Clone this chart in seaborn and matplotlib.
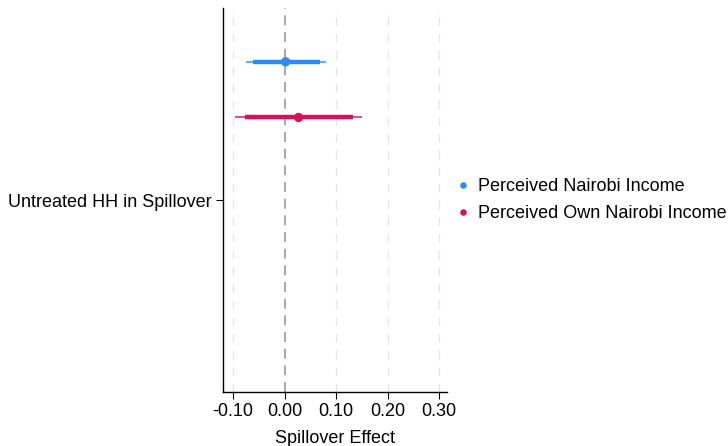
import matplotlib
matplotlib.use("Agg")
import matplotlib.pyplot as plt
import seaborn as sns
import pandas as pd

series = ["Perceived Nairobi Income", "Perceived Own Nairobi Income"]
estimates = [0.002, 0.027]
ci90_low = [-0.062, -0.076]
ci90_high = [0.068, 0.132]
ci95_low = [-0.074, -0.097]
ci95_high = [0.080, 0.151]
colors = ["#2a8cf0", "#d4145a"]
category = "Untreated HH in Spillover"
xticks = [-0.10, 0.00, 0.10, 0.20, 0.30]
ypos = [0.72, 0.43]

sns.set_theme(style="white")
plt.rcParams['font.family'] = ['Liberation Sans', 'DejaVu Sans']
plt.rcParams['text.color'] = 'black'
plt.rcParams['axes.labelcolor'] = 'black'
plt.rcParams['xtick.color'] = 'black'
plt.rcParams['ytick.color'] = 'black'

df = pd.DataFrame({"series": series, "est": estimates, "y": ypos,
                   "lo90": ci90_low, "hi90": ci90_high,
                   "lo95": ci95_low, "hi95": ci95_high})

fig = plt.figure(figsize=(7.28, 4.46), dpi=100)
ax = fig.add_axes([0.306, 0.121, 0.308, 0.861])

for xt in xticks:
    if xt == 0:
        continue
    ax.axvline(xt, color="#e6e6e6", lw=1.0, ls=(0, (6, 6)), zorder=0)
ax.axvline(0, color="#999999", lw=1.2, ls=(0, (6, 4)), zorder=1)

for i, r in df.iterrows():
    ax.hlines(r["y"], r["lo95"], r["hi95"], color=colors[i], lw=1.3, alpha=0.8, zorder=2)
    ax.hlines(r["y"], r["lo90"], r["hi90"], color=colors[i], lw=3.2, zorder=3)

sns.scatterplot(data=df, x="est", y="y", hue="series", palette=colors,
                s=45, edgecolor="none", ax=ax, zorder=4)

ax.set_xlim(-0.12, 0.315)
ax.set_ylim(-1, 1)
ax.set_xticks(xticks)
ax.set_xticklabels([f"{v:.2f}" for v in xticks], fontsize=13)
ax.set_yticks([0])
ax.set_yticklabels([category], fontsize=13)
ax.set_xlabel("Spillover Effect", fontsize=13, labelpad=7)
ax.set_ylabel("")
ax.tick_params(axis="both", which="both", direction="out", length=5, width=0.8,
               color="black", bottom=True, left=True, pad=3)
for side in ["top", "right"]:
    ax.spines[side].set_visible(False)
for side in ["left", "bottom"]:
    ax.spines[side].set_color("black")
    ax.spines[side].set_linewidth(1.0)

handles, labels = ax.get_legend_handles_labels()
ax.legend(handles, labels, loc="center left", bbox_to_anchor=(1.0, 0.5),
          frameon=False, fontsize=13, handlelength=1.0, handletextpad=0.3,
          labelspacing=0.55, markerscale=0.7, borderaxespad=0.2, borderpad=0.2)

fig.savefig("out.png", dpi=100)
